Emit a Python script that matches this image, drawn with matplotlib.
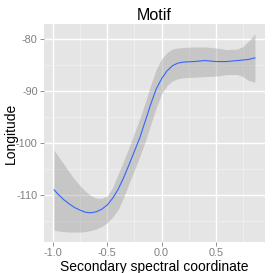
import matplotlib
matplotlib.use("Agg")
import matplotlib.pyplot as plt

plt.rcParams['font.family'] = ['Liberation Sans', 'DejaVu Sans']

x = [-0.99, -0.95, -0.9, -0.85, -0.8, -0.75, -0.7, -0.65, -0.6, -0.55, -0.5,
     -0.45, -0.4, -0.35, -0.3, -0.25, -0.2, -0.15, -0.1, -0.05, 0.0, 0.05,
     0.1, 0.15, 0.2, 0.3, 0.4, 0.5, 0.6, 0.7, 0.75, 0.8, 0.86]
fit = [-109.0, -109.9, -110.9, -111.7, -112.4, -112.9, -113.3, -113.4, -113.2,
       -112.7, -111.9, -110.6, -108.9, -106.7, -104.2, -101.6, -99.0, -95.8,
       -92.6, -89.7, -87.7, -86.2, -85.2, -84.7, -84.5, -84.4, -84.2, -84.4,
       -84.4, -84.2, -84.1, -84.0, -83.7]
upper = [-101.4, -102.6, -104.1, -105.6, -107.0, -108.2, -109.3, -110.1, -110.6,
         -110.6, -110.2, -108.5, -106.0, -103.5, -100.9, -98.1, -95.3, -92.2,
         -88.9, -85.9, -83.9, -82.7, -82.0, -81.8, -81.7, -81.6, -81.6, -81.8,
         -82.1, -82.0, -81.5, -80.5, -79.1]
lower = [-116.7, -116.9, -117.0, -117.1, -117.1, -117.1, -117.0, -116.8, -116.5,
         -116.0, -115.3, -114.2, -112.8, -110.5, -107.8, -105.2, -102.6, -99.7,
         -96.5, -93.3, -90.6, -89.0, -88.1, -87.7, -87.5, -87.4, -87.3, -87.2,
         -86.9, -86.9, -87.3, -88.0, -88.4]

xticks = [-1.0, -0.5, 0.0, 0.5]
xticklabels = ["-1.0", "-0.5", "0.0", "0.5"]
yticks = [-110, -100, -90, -80]
yticklabels = ["-110", "-100", "-90", "-80"]
xminor = [-0.75, -0.25, 0.25, 0.75]
yminor = [-115, -105, -95, -85]

W = H = 273
fig = plt.figure(figsize=(2.73, 2.73), dpi=100)
fig.patch.set_facecolor('white')
ax = fig.add_axes([44 / W, 1 - 242 / H, (265 - 44) / W, (242 - 24) / H])
ax.set_facecolor('#E5E5E5')

ax.set_xticks(xticks)
ax.set_xticklabels(xticklabels)
ax.set_yticks(yticks)
ax.set_yticklabels(yticklabels)
ax.set_xticks(xminor, minor=True)
ax.set_yticks(yminor, minor=True)
ax.grid(True, which='minor', color='#F2F2F2', linewidth=0.5)
ax.grid(True, which='major', color='white', linewidth=1.0)
ax.set_axisbelow(True)

ax.fill_between(x, lower, upper, color='#999999', alpha=0.4, linewidth=0, zorder=2)
ax.plot(x, fit, color='#3366FF', linewidth=0.8, zorder=3)

xr = x[-1] - x[0]
ax.set_xlim(x[0] - 0.05 * xr, x[-1] + 0.05 * xr)
yr = max(upper) - min(lower)
ax.set_ylim(min(lower) - 0.05 * yr, max(upper) + 0.05 * yr)

for s in ax.spines.values():
    s.set_visible(False)
ax.tick_params(which='major', length=3, width=0.6, color='#7F7F7F',
               labelcolor='#7F7F7F', labelsize=7.8, pad=1.5)
ax.tick_params(which='minor', length=0)

ax.set_xlabel('Secondary spectral coordinate', fontsize=10, labelpad=1)
fig.text(10.5 / W, 1 - 133.5 / H, 'Longitude', fontsize=10, rotation=90,
         ha='center', va='center')
ax.set_title('Motif', fontsize=11.5, pad=3)

fig.savefig('out.png', dpi=100)
